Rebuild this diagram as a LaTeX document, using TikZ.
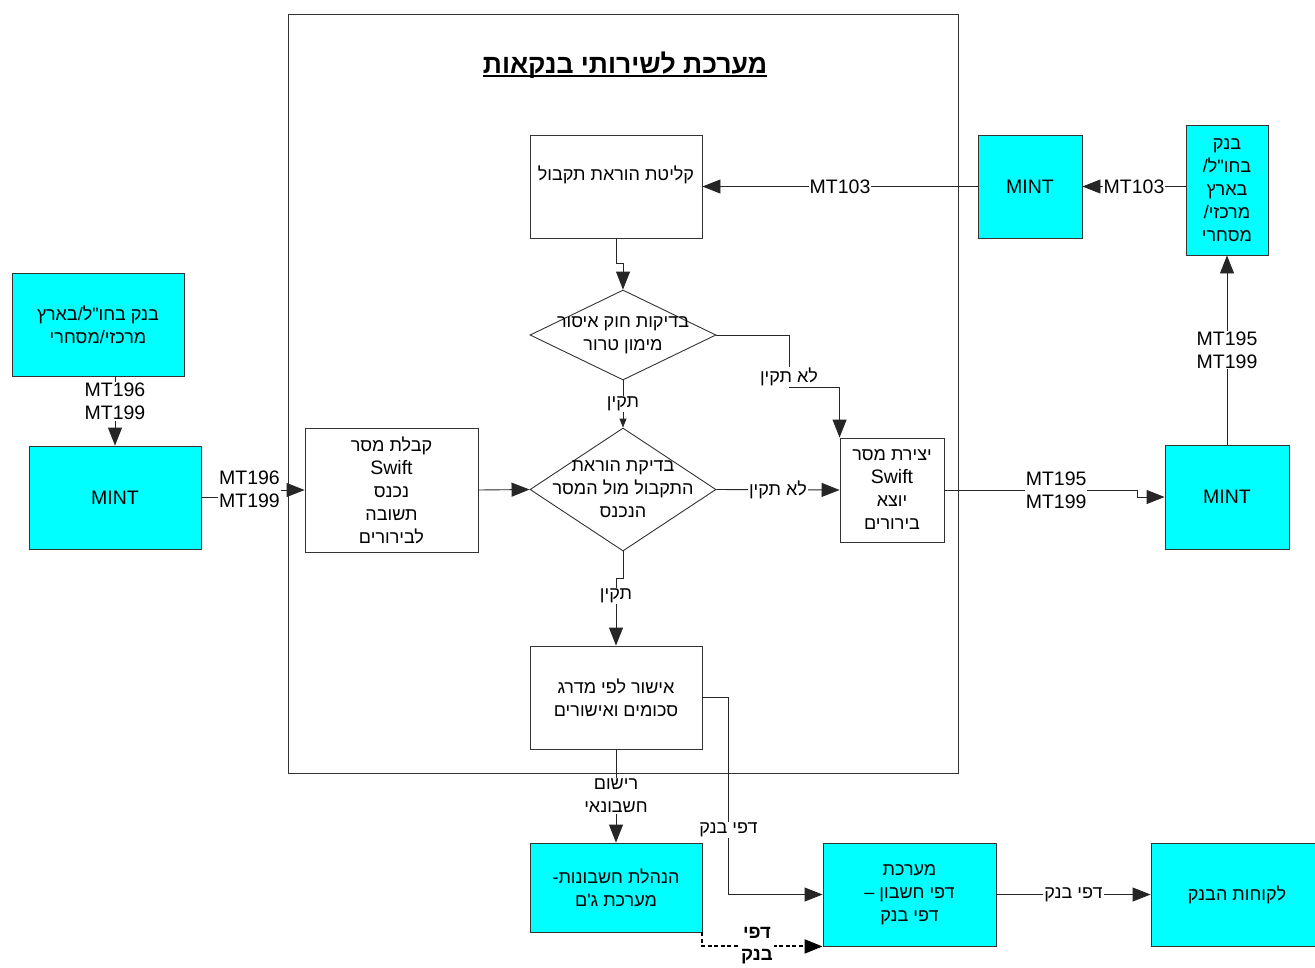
\documentclass[tikz,border=0pt]{standalone}
\usepackage{fontspec}
\setmainfont{Liberation Sans}
\newfontfamily\hebfont[Script=Hebrew]{Liberation Sans}
\TeXXeTstate=1
\usetikzlibrary{arrows.meta,shapes.geometric}
% Hebrew run, set right to left
\newcommand{\heb}[1]{{\hebfont\beginR #1\endR}}
% Latin message codes, set a little larger
\newcommand{\lat}[1]{{\fontsize{19.5}{23}\selectfont #1}}
\definecolor{boxcyan}{HTML}{00FFFF}
\definecolor{edge}{HTML}{333333}

\begin{document}
\begin{tikzpicture}[x=1pt,y=-1pt,
  every node/.style={font=\fontsize{18}{23}\selectfont, align=center},
  plainbox/.style={draw=edge, line width=0.9pt, fill=white, inner sep=0pt},
  cyanbox/.style={draw=edge, line width=0.9pt, fill=boxcyan, inner sep=0pt},
  decision/.style={diamond, draw=edge, line width=0.9pt, fill=white, inner sep=0pt},
  bare/.style={inner sep=0pt},
  conn/.style={draw=black!85, line width=0.9pt, -{Triangle[length=18pt,width=14pt]}},
  smallconn/.style={draw=black!85, line width=0.9pt, -{Triangle[length=9pt,width=7pt]}},
  dotconn/.style={draw=black, line width=2pt, dash pattern=on 4pt off 2.5pt, -{Triangle[length=18pt,width=14pt]}},
  lbl/.style={fill=white, inner sep=1pt}
]
\useasboundingbox (0,0) rectangle (1315,967);

% the banking-services system frame
\node[draw=edge, line width=0.9pt, minimum width=670, minimum height=759, inner sep=0pt] (frame) at (623,393.5) {};
\node[bare, anchor=base] (title) at (625,73) {\bfseries\fontsize{26.6}{30}\selectfont\heb{מערכת לשירותי בנקאות}};
\draw[line width=2.5pt] ([yshift=-3pt]title.base west) -- ([yshift=-3pt]title.base east);

% process steps inside the frame
\node[plainbox, minimum width=172, minimum height=103] (recv) at (616,186.5)
  {\raisebox{12pt}[\height][\depth]{\heb{קליטת הוראת תקבול}}};
\node[decision, minimum width=186, minimum height=90] (d1) at (623,335) {};
\node[bare] (d1t) at (d1.center) {\heb{בדיקות חוק איסור}\\\heb{מימון טרור}};
\node[decision, minimum width=186, minimum height=123] (d2) at (623,489.5) {};
\node[bare] (d2t) at (d2.center) {\heb{בדיקת הוראת}\\\heb{התקבול מול המסר}\\\heb{הנכנס}};
\node[plainbox, minimum width=173, minimum height=124] (boxin) at (391.5,490)
  {\heb{קבלת מסר}\\\lat{Swift}\\\heb{נכנס}\\\heb{תשובה}\\\heb{לבירורים}};
\node[plainbox, minimum width=104, minimum height=104] (boxout) at (892,490)
  {\heb{יצירת מסר}\\\lat{Swift}\\\heb{יוצא}\\\heb{בירורים}};
\node[plainbox, minimum width=172, minimum height=103] (approve) at (616,697.5)
  {\heb{אישור לפי מדרג}\\\heb{סכומים ואישורים}};

% external parties and systems
\node[cyanbox, minimum width=104, minimum height=103] (mintr) at (1030,186.5) {\lat{MINT}};
\node[cyanbox, minimum width=82, minimum height=130] (bankr) at (1227,190)
  {\heb{בנק}\\/\heb{בחו"ל}\\\heb{בארץ}\\/\heb{מרכזי}\\\heb{מסחרי}};
\node[cyanbox, minimum width=124, minimum height=104] (minte) at (1227,497) {\lat{MINT}};
\node[cyanbox, minimum width=172, minimum height=103] (bankl) at (98,324.5)
  {\heb{בנק בחו"ל/בארץ}\\\heb{מרכזי/מסחרי}};
\node[cyanbox, minimum width=172, minimum height=103] (mintw) at (115,497.5) {\lat{MINT}};
\node[cyanbox, minimum width=172, minimum height=89] (acct) at (616,887.5)
  {-\heb{הנהלת חשבונות}\\\heb{מערכת ג'ם}};
\node[cyanbox, minimum width=173, minimum height=103] (sys) at (909.5,894.5)
  {\heb{מערכת}\\– \heb{דפי חשבון}\\\heb{דפי בנק}};
\node[cyanbox, minimum width=172, minimum height=103] (cust) at (1237,894.5)
  {\heb{לקוחות הבנק}};

% incoming payment order
\draw[conn] (mintr.west) -- node[lbl]{\lat{MT103}} (recv.east);
\draw[conn] (bankr.west |- mintr.east) -- node[lbl, pos=0.5]{\lat{MT103}} (mintr.east);
\draw[conn] (recv.south) -- ++(0,25) -| (d1.north);
\draw[smallconn] (d1.south) -- node[lbl]{\heb{תקין}} (d2.north);
\draw[conn] (d1.east) -| (789,387) node[lbl, yshift=10pt]{\heb{לא תקין}} -| (boxout.north west);

% incoming query answers
\draw[conn] (mintw.east) -- ++(48,0) node[lbl, yshift=8pt]{\lat{MT196}\\\lat{MT199}} |- (boxin.west);
\draw[conn] (bankl.south -| mintw.north) -- node[lbl, pos=0.36]{\lat{MT196}\\\lat{MT199}} (mintw.north);
\draw[conn] (boxin.east) -- (d2.west);
\draw[conn] (d2.east) -- node[lbl]{\heb{לא תקין}} (boxout.west);

% outgoing queries
\draw[conn] (boxout.east) -- node[lbl, pos=0.58]{\lat{MT195}\\\lat{MT199}} (1137,490) |- (minte.west);
\draw[conn] (minte.north) -- node[lbl]{\lat{MT195}\\\lat{MT199}} (bankr.south);

% approval, posting and statements
\draw[conn] (d2.south) -- ++(0,27) -| node[lbl, pos=0.63]{\heb{תקין}} (approve.north);
\draw[conn] (approve.south) -- node[lbl]{\heb{רישום}\\\heb{חשבונאי}} (acct.north);
\draw[conn] (approve.east) -- ++(26,0) |- node[lbl, pos=0.336]{\heb{דפי בנק}} (sys.west);
\draw[dotconn] (acct.south east) |- node[lbl, pos=0.727, yshift=1pt, font=\bfseries\fontsize{18.5}{22}\selectfont]{\heb{דפי}\\\heb{בנק}} (sys.south west);
\draw[conn] (sys.east) -- node[lbl]{\heb{דפי בנק}} (cust.west);
\end{tikzpicture}
\end{document}
